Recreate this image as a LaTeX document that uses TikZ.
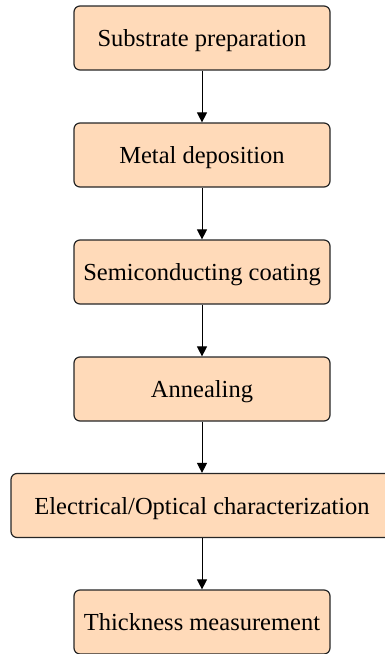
\documentclass[tikz,border=0pt]{standalone}
\usepackage{fontspec}
\setmainfont{Liberation Serif}
\usetikzlibrary{arrows.meta}
\definecolor{peach}{HTML}{FFDAB9}
\begin{document}
\begin{tikzpicture}[x=1pt,y=1pt,
  stepbox/.style={draw=black!85, line width=1.2pt, fill=peach, rounded corners=6pt,
    minimum height=64pt, minimum width=256pt, inner sep=0pt, text height=40.5pt, text depth=23.5pt,
    font=\fontsize{24.5}{28}\selectfont},
  flow/.style={-{Triangle[length=10pt,width=10pt]}, line width=1pt, black}]
\useasboundingbox (0,0) rectangle (385,-654);
\clip (0,0) rectangle (385,-654);
\node[stepbox] (a) at (202,-38) {Substrate preparation};
\node[stepbox] (b) at (202,-155) {Metal deposition};
\node[stepbox] (c) at (202,-272) {Semiconducting coating};
\node[stepbox] (d) at (202,-389) {Annealing};
\node[stepbox, minimum width=382pt] (e) at (202,-505.5) {Electrical/Optical characterization};
\node[stepbox] (f) at (202,-622) {Thickness measurement};
\draw[flow] (a) -- (b);
\draw[flow] (b) -- (c);
\draw[flow] (c) -- (d);
\draw[flow] (d) -- (e);
\draw[flow] (e) -- (f);
\end{tikzpicture}
\end{document}
